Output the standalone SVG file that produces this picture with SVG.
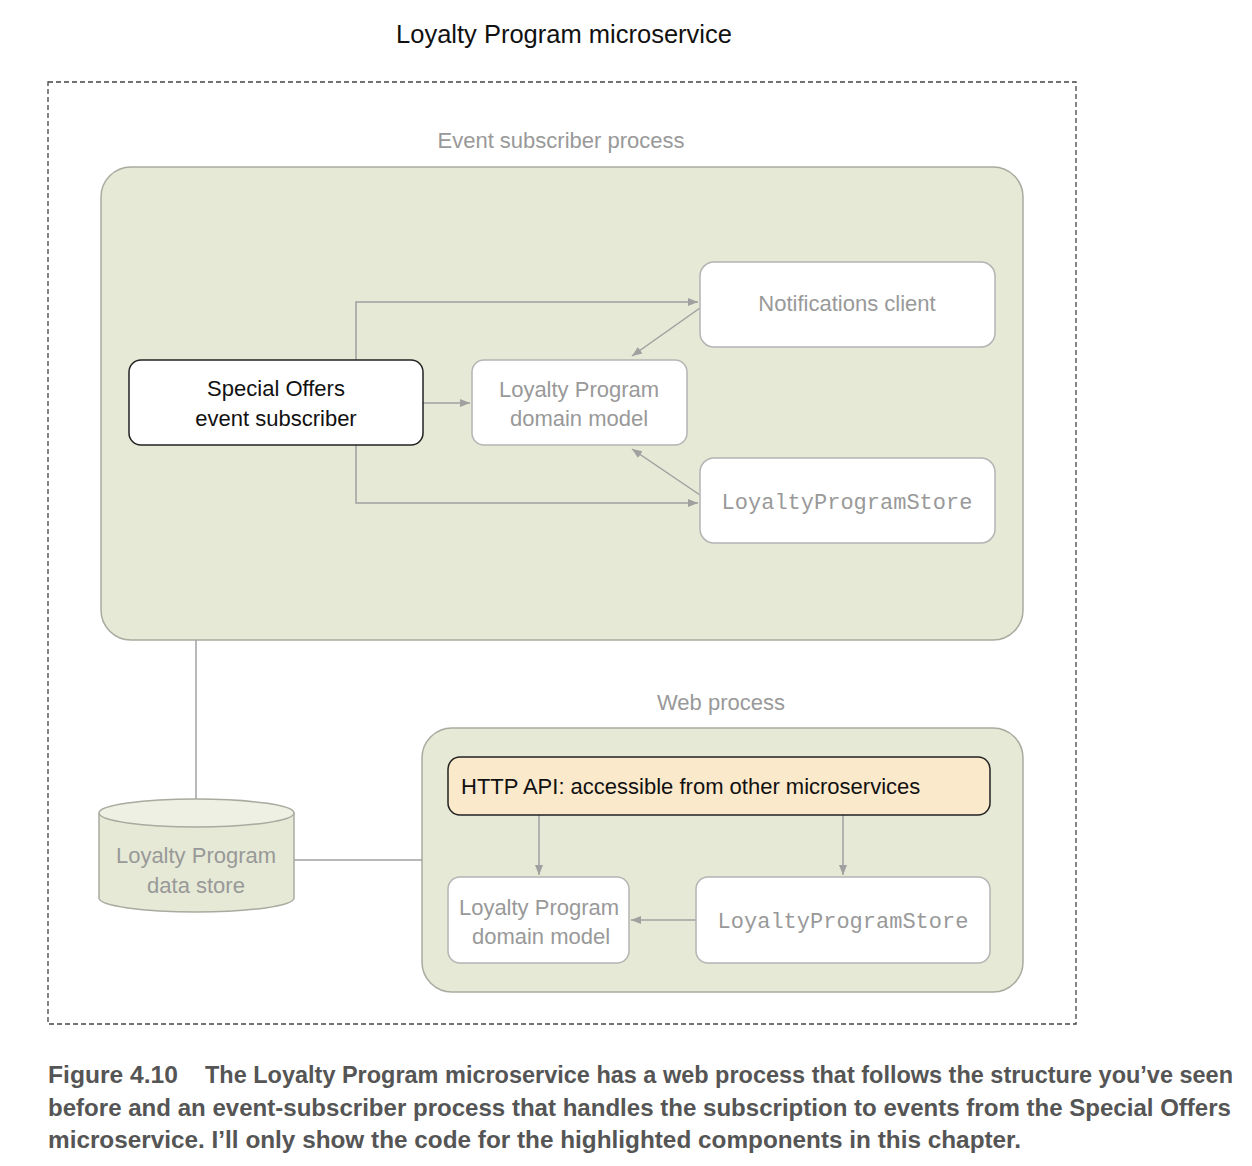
<svg xmlns="http://www.w3.org/2000/svg" width="1252" height="1166" viewBox="0 0 1252 1166">
<style>
text{font-family:"Liberation Sans",Arial,sans-serif}
.panel{fill:#e5e9d5;stroke:#aaaaa0;stroke-width:1.5}
.box{fill:#fff;stroke:#b4b4b4;stroke-width:1.5}
.hl{stroke:#222;stroke-width:1.5}
.gt{fill:#999;font-size:22px;text-anchor:middle}
.bt{fill:#111;font-size:22px;text-anchor:middle}
.mono{font-family:"Liberation Mono","Courier New",monospace;fill:#999;font-size:22px;text-anchor:middle}
.conn{fill:none;stroke:#a0a0a0;stroke-width:1.5}
.cap{font-weight:bold;fill:#555;font-size:23px}
</style>
<defs>
<marker id="ah" viewBox="0 0 10 10" refX="10" refY="5" markerWidth="10" markerHeight="10" markerUnits="userSpaceOnUse" orient="auto">
<path d="M0,1 L10,5 L0,9 z" fill="#a0a0a0"/>
</marker>
</defs>
<rect width="1252" height="1166" fill="#fff"/>
<text x="564" y="43" font-size="25.5" fill="#111" text-anchor="middle">Loyalty Program microservice</text>
<rect x="48" y="82" width="1028" height="942" fill="none" stroke="#444" stroke-width="1.3" stroke-dasharray="5,3"/>

<g id="event-process">
<text class="gt" x="561" y="148">Event subscriber process</text>
<rect class="panel" x="101" y="167" width="922" height="473" rx="30"/>
</g>
<g id="web-process">
<text class="gt" x="721" y="710">Web process</text>
<rect class="panel" x="422" y="728" width="601" height="264" rx="30"/>
</g>

<g id="connectors">
<polyline class="conn" points="356,360 356,302 698,302" marker-end="url(#ah)"/>
<polyline class="conn" points="356,445 356,503 698,503" marker-end="url(#ah)"/>
<line class="conn" x1="423" y1="403" x2="470" y2="403" marker-end="url(#ah)"/>
<line class="conn" x1="700" y1="308" x2="632" y2="356" marker-end="url(#ah)"/>
<line class="conn" x1="700" y1="495" x2="632" y2="449" marker-end="url(#ah)"/>
<line class="conn" x1="196" y1="640" x2="196" y2="802"/>
<line class="conn" x1="294" y1="860" x2="422" y2="860"/>
<line class="conn" x1="539" y1="815" x2="539" y2="875" marker-end="url(#ah)"/>
<line class="conn" x1="843" y1="815" x2="843" y2="875" marker-end="url(#ah)"/>
<line class="conn" x1="696" y1="920" x2="631" y2="920" marker-end="url(#ah)"/>
</g>

<g id="special-offers-subscriber">
<rect class="box hl" x="129" y="360" width="294" height="85" rx="12"/>
<text class="bt" x="276" y="396">Special Offers</text>
<text class="bt" x="276" y="426">event subscriber</text>
</g>
<g id="domain-model-event">
<rect class="box" x="472" y="360" width="215" height="85" rx="12"/>
<text class="gt" x="579" y="397">Loyalty Program</text>
<text class="gt" x="579" y="426">domain model</text>
</g>
<g id="notifications-client">
<rect class="box" x="700" y="262" width="295" height="85" rx="14"/>
<text class="gt" x="847" y="311">Notifications client</text>
</g>
<g id="store-event">
<rect class="box" x="700" y="458" width="295" height="85" rx="14"/>
<text class="mono" x="847" y="509">LoyaltyProgramStore</text>
</g>

<g id="data-store">
<path d="M99,813 L99,898 A97.5,14 0 0 0 294,898 L294,813" fill="#e5e9d5" stroke="#aaaaa0" stroke-width="1.5"/>
<ellipse cx="196.5" cy="813" rx="97.5" ry="14" fill="#edf0e2" stroke="#aaaaa0" stroke-width="1.5"/>
<text class="gt" x="196" y="863">Loyalty Program</text>
<text class="gt" x="196" y="893">data store</text>
</g>

<g id="http-api">
<rect x="448" y="757" width="542" height="58" rx="12" fill="#fbe9cc" class="hl"/>
<text x="461" y="794" font-size="22" fill="#111">HTTP API: accessible from other microservices</text>
</g>
<g id="domain-model-web">
<rect class="box" x="448" y="877" width="181" height="86" rx="12"/>
<text class="gt" x="539" y="915">Loyalty Program</text>
<text class="gt" x="541" y="944">domain model</text>
</g>
<g id="store-web">
<rect class="box" x="696" y="877" width="294" height="86" rx="12"/>
<text class="mono" x="843" y="928">LoyaltyProgramStore</text>
</g>

<g id="caption">
<text class="cap" x="48" y="1083" textLength="130" lengthAdjust="spacingAndGlyphs">Figure 4.10</text>
<text class="cap" x="205" y="1083" textLength="1028" lengthAdjust="spacingAndGlyphs">The Loyalty Program microservice has a web process that follows the structure you’ve seen</text>
<text class="cap" x="48" y="1116" textLength="1183" lengthAdjust="spacingAndGlyphs">before and an event-subscriber process that handles the subscription to events from the Special Offers</text>
<text class="cap" x="48" y="1148" textLength="973" lengthAdjust="spacingAndGlyphs">microservice. I’ll only show the code for the highlighted components in this chapter.</text>
</g>
</svg>
